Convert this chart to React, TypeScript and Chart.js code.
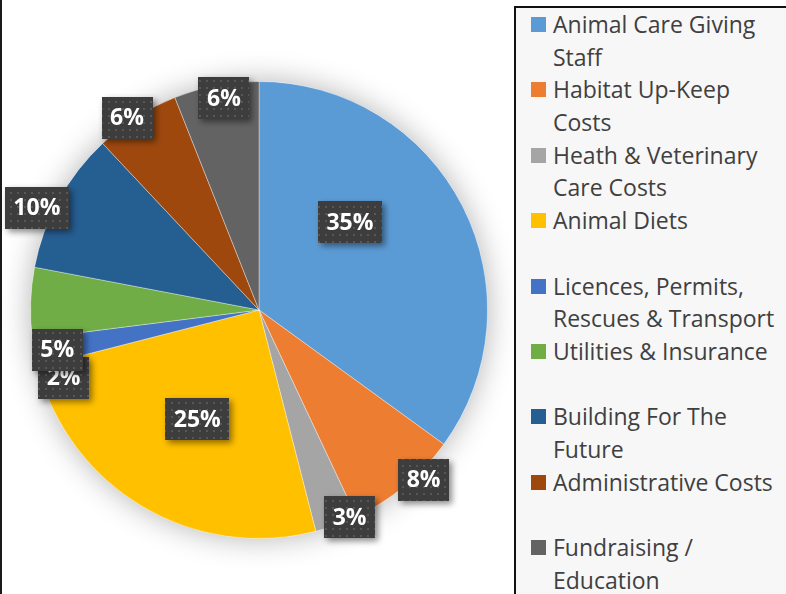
import React, { useEffect, useRef } from "react";
import { Chart, ArcElement, PieController } from "chart.js";

Chart.register(ArcElement, PieController);

const categories = [
  "Animal Care Giving Staff",
  "Habitat Up-Keep Costs",
  "Heath & Veterinary Care Costs",
  "Animal Diets",
  "Licences, Permits, Rescues & Transport",
  "Utilities & Insurance",
  "Building For The Future",
  "Administrative Costs",
  "Fundraising / Education",
];
const values = [35, 8, 3, 25, 2, 5, 10, 6, 6];
const colors = [
  "#5B9BD5",
  "#ED7D31",
  "#A5A5A5",
  "#FFC000",
  "#4472C4",
  "#70AD47",
  "#255E91",
  "#9E480E",
  "#636363",
];
// label placement ("best fit" emulation): radius factor and angular shift (deg) relative to slice middle
const labelRadius = [0.553, 1.035, 0.99, 0.55, 0.905, 0.9, 1.07, 1.02, 0.94];
const labelShiftDeg = [-17, -4.5, -3.8, -1.2, -8.3, -13, -4.1, -2.1, 1.4];

const FONT = '"Open Sans", "DejaVu Sans", sans-serif';

function makePattern(ctx: CanvasRenderingContext2D) {
  const c = document.createElement("canvas");
  c.width = 7;
  c.height = 7;
  const p = c.getContext("2d")!;
  p.fillStyle = "#3d3d3d";
  p.fillRect(0, 0, 7, 7);
  p.fillStyle = "#575757";
  p.fillRect(3, 3, 2, 2);
  return ctx.createPattern(c, "repeat")!;
}

const shadowPlugin = {
  id: "pieShadow",
  beforeDatasetsDraw(chart: any) {
    const meta = chart.getDatasetMeta(0);
    const arc = meta.data[0];
    if (!arc) return;
    const { x, y, outerRadius } = arc.getProps(["x", "y", "outerRadius"], true);
    const ctx = chart.ctx as CanvasRenderingContext2D;
    ctx.save();
    ctx.shadowColor = "rgba(0,0,0,0.3)";
    ctx.shadowBlur = 30;
    ctx.fillStyle = "#ffffff";
    ctx.beginPath();
    ctx.arc(x, y, outerRadius, 0, Math.PI * 2);
    ctx.fill();
    ctx.restore();
  },
};

const labelPlugin = {
  id: "pieLabels",
  afterDatasetsDraw(chart: any) {
    const meta = chart.getDatasetMeta(0);
    const ctx = chart.ctx as CanvasRenderingContext2D;
    const pattern = makePattern(ctx);
    const total = values.reduce((a, b) => a + b, 0);
    meta.data.forEach((arc: any, i: number) => {
      const { x, y, startAngle, endAngle, outerRadius } = arc.getProps(
        ["x", "y", "startAngle", "endAngle", "outerRadius"],
        true
      );
      const mid = (startAngle + endAngle) / 2 + (labelShiftDeg[i] * Math.PI) / 180;
      const r = outerRadius * labelRadius[i];
      const cx = x + Math.cos(mid) * r;
      const cy = y + Math.sin(mid) * r;
      const text = Math.round((values[i] / total) * 100) + "%";
      ctx.save();
      ctx.font = `bold 23px ${FONT}`;
      const tw = ctx.measureText(text).width;
      const w = tw + 17;
      const h = 42;
      ctx.shadowColor = "rgba(0,0,0,0.45)";
      ctx.shadowBlur = 6;
      ctx.shadowOffsetX = 3;
      ctx.shadowOffsetY = 3;
      ctx.fillStyle = pattern;
      ctx.fillRect(Math.round(cx - w / 2), Math.round(cy - h / 2), Math.round(w), h);
      ctx.shadowColor = "transparent";
      ctx.fillStyle = "#ffffff";
      ctx.textAlign = "center";
      ctx.textBaseline = "middle";
      ctx.fillText(text, cx, cy + 1);
      ctx.restore();
    });
  },
};

export default function App() {
  const ref = useRef<HTMLCanvasElement>(null);
  useEffect(() => {
    if (!ref.current) return;
    const chart = new Chart(ref.current, {
      type: "pie",
      data: {
        labels: categories,
        datasets: [
          {
            data: values,
            backgroundColor: colors,
            borderColor: "rgba(255,255,255,0.35)",
            borderWidth: 1,
          },
        ],
      },
      options: {
        animation: false,
        responsive: false,
        maintainAspectRatio: false,
        layout: { padding: { top: 81, bottom: 55, left: 30, right: 30 } },
        plugins: { legend: { display: false }, tooltip: { enabled: false } },
      },
      plugins: [shadowPlugin, labelPlugin],
    });
    return () => chart.destroy();
  }, []);

  return (
    <div
      style={{
        position: "fixed",
        left: 0,
        top: 0,
        width: 786,
        height: 594,
        overflow: "hidden",
        background: "#ffffff",
        fontFamily: FONT,
      }}
    >
      <div
        style={{
          position: "absolute",
          left: 0,
          top: 0,
          width: 2,
          height: 594,
          background: "#1a1a1a",
        }}
      />
      <canvas
        ref={ref}
        width={518}
        height={594}
        style={{ position: "absolute", left: 0, top: 0, width: 518, height: 594 }}
      />
      <div
        style={{
          position: "absolute",
          left: 514,
          top: 6,
          width: 300,
          height: 620,
          boxSizing: "border-box",
          border: "2px solid #111",
          background: "#f7f7f7",
          paddingTop: 0,
        }}
      >
        {categories.map((c, i) => (
          <div
            key={c}
            style={{
              position: "relative",
              height: 65.4,
              paddingLeft: 37,
              width: 232,
              fontSize: 23,
              lineHeight: "32.7px",
              color: "#404040",
            }}
          >
            <span
              style={{
                position: "absolute",
                left: 15,
                top: 9,
                width: 15,
                height: 15,
                background: colors[i],
              }}
            />
            {c}
          </div>
        ))}
      </div>
    </div>
  );
}
